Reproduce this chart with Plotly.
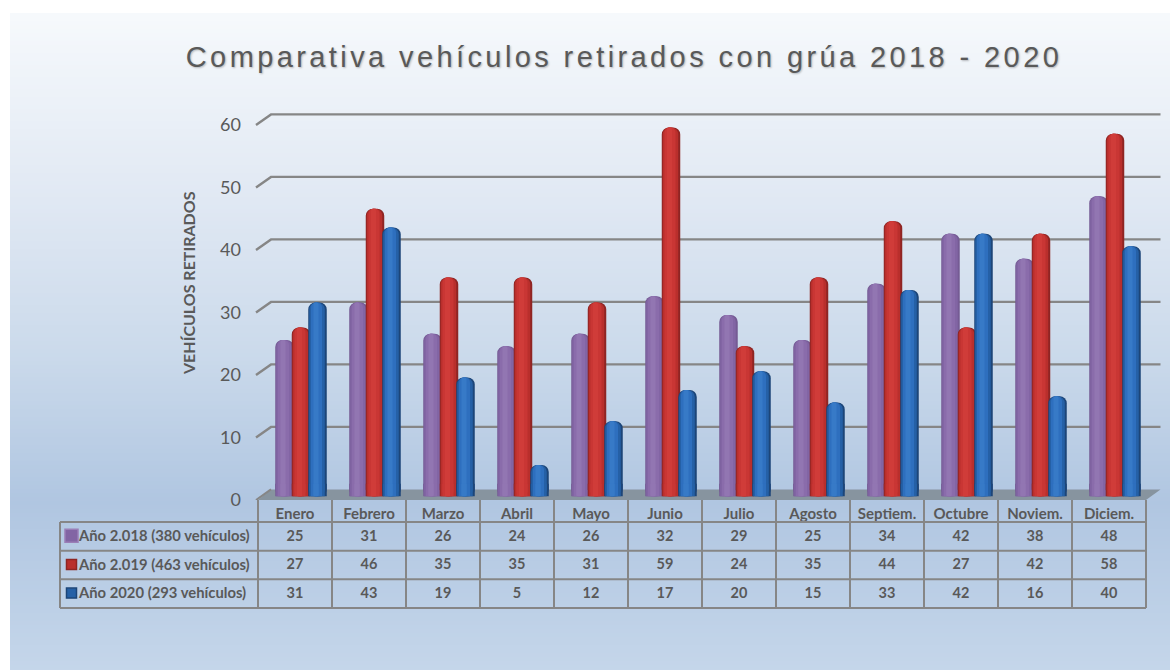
import plotly.graph_objects as go

W, H = 1170, 670
months = ["Enero", "Febrero", "Marzo", "Abril", "Mayo", "Junio", "Julio", "Agosto",
          "Septiem.", "Octubre", "Noviem.", "Diciem."]
names = ["Año 2.018 (380 vehículos)", "Año 2.019 (463 vehículos)", "Año 2020 (293 vehículos)"]
y2018 = [25, 31, 26, 24, 26, 32, 29, 25, 34, 42, 38, 48]
y2019 = [27, 46, 35, 35, 31, 59, 24, 35, 44, 27, 42, 58]
y2020 = [31, 43, 19, 5, 12, 17, 20, 15, 33, 42, 16, 40]
series = [y2018, y2019, y2020]
yticks = [0, 10, 20, 30, 40, 50, 60]

TITLE = "Comparativa vehículos retirados con grúa 2018 - 2020"
YTITLE = "VEHÍCULOS RETIRADOS"
FONT = "Lato, 'Open Sans', sans-serif"
TXT = "#595959"
LINE = "#868686"

# strip shading per series: (px offset from centre, px width, colour)
shades = [
    [(0, 18.5, "#755b94"), (-0.5, 15.5, "#8265a4"), (-1, 11, "#8a6cab"), (-1.5, 5, "#9276b2")],
    [(0, 18.5, "#8f2523"), (-0.5, 15.5, "#b92f2c"), (-1, 11, "#c93634"), (-1.5, 5, "#d03c39")],
    [(0, 18.5, "#1c4578"), (-0.5, 15.5, "#2560a6"), (-1, 11, "#2e6fbe"), (-1.5, 5, "#377ac7")],
]
centres = [-16.5, 0, 16.5]  # px from group centre

# geometry helpers (pixel -> axis units)
PX_X0, PX_COL = 258.0, 74.0
PX_L, PX_R = 57.0, 1162.0
PX_Y0, PX_UNIT = 500.0, 6.25
ROW = 28.67
px2x = lambda px: (px - PX_X0) / PX_COL
dx = 13 / PX_COL            # depth of the floor in x
dy = 10.6 / PX_UNIT         # depth of the floor in y
xend = px2x(1160.5)

fig = go.Figure()

shapes = []
# panel gradient
stops = [(13, (246, 249, 252)), (200, (224, 232, 243)), (350, (203, 218, 235)),
         (500, (176, 198, 225)), (670, (197, 214, 234))]
def col(p):
    for (a, ca), (b, cb) in zip(stops, stops[1:]):
        if a <= p <= b:
            t = (p - a) / (b - a)
            return "rgb(%d,%d,%d)" % tuple(round(u + (v - u) * t) for u, v in zip(ca, cb))
    return "rgb(197,214,234)"
for p in range(13, H, 4):
    shapes.append(dict(type="rect", xref="paper", yref="paper", layer="below",
                       x0=10 / W, x1=1, y0=max(0, 1 - (p + 4.5) / H), y1=1 - p / H,
                       fillcolor=col(p), line=dict(width=0)))
# floor
shapes.append(dict(type="path", xref="x", yref="y", layer="below", line=dict(width=0),
                   fillcolor="#87949f",
                   path=f"M 0 0 L {dx} {dy} L {xend} {dy} L {12} 0 Z"))
# grid lines on the back wall with slanted side wall segment
for v in yticks[1:]:
    shapes.append(dict(type="path", xref="x", yref="y", layer="below",
                       line=dict(color=LINE, width=2.4),
                       path=f"M {px2x(256)} {v} L {dx} {v + dy} L {xend} {v + dy}"))
shapes.append(dict(type="path", xref="x", yref="y", layer="below",
                   line=dict(color=LINE, width=2), path=f"M {px2x(256)} 0 L {dx} {dy}"))
# table lines
for r in range(4):
    shapes.append(dict(type="line", xref="x", yref="y2", layer="below", x0=px2x(60), x1=12, y0=r, y1=r,
                       line=dict(color=LINE, width=2)))
shapes.append(dict(type="line", xref="x", yref="y2", layer="below", x0=px2x(60), x1=px2x(60), y0=0, y1=3,
                   line=dict(color=LINE, width=2)))
for c in range(13):
    shapes.append(dict(type="line", xref="x", yref="y2", layer="below", x0=c, x1=c, y0=-22 / ROW, y1=3,
                       line=dict(color=LINE, width=2)))

# cylinder bars: rounded top strips, with square-cornered strips at their feet
xcat = [i + 0.5 for i in range(12)]
for s, vals in enumerate(series):
    for k, (off, wid, colr) in enumerate(shades[s]):
        xs = [c + (6 + centres[s] + off) / PX_COL for c in xcat]
        fig.add_trace(go.Bar(
            x=xs, y=vals, base=[0.6] * 12, width=wid / PX_COL, name=names[s],
            marker=dict(color=colr, line=dict(width=0), cornerradius=min(wid / 2, 7)),
            showlegend=False, hoverinfo="y"))
        fig.add_trace(go.Bar(
            x=xs, y=[min(v, 2) for v in vals], base=[0.6] * 12, width=wid / PX_COL, name=names[s],
            marker=dict(color=colr, line=dict(width=0)),
            showlegend=False, hoverinfo="skip"))

# table text
for r, vals in enumerate(series):
    fig.add_trace(go.Scatter(x=xcat, y=[r + 0.53] * 12, yaxis="y2", mode="text", text=[str(v) for v in vals],
                             textfont=dict(family=FONT, size=14.5, color=TXT, weight="bold"),
                             showlegend=False, hoverinfo="skip", cliponaxis=False))
    fig.add_trace(go.Scatter(x=[px2x(79)], y=[r + 0.53], yaxis="y2", mode="text", text=[names[r]],
                             textposition="middle right",
                             textfont=dict(family=FONT, size=14.8, color=TXT, weight="bold"),
                             showlegend=False, hoverinfo="skip", cliponaxis=False))
    fig.add_trace(go.Scatter(x=[px2x(71.5)], y=[r + 0.48], yaxis="y2", mode="markers",
                             marker=dict(symbol="square", size=13 if r == 0 else 10,
                                         color=shades[r][1][2],
                                         line=dict(color="#9a7eb6" if r == 0 else shades[r][0][2], width=1.5)),
                             showlegend=False, hoverinfo="skip", cliponaxis=False))

fig.update_layout(
    width=W, height=H, margin=dict(l=0, r=0, t=0, b=0, autoexpand=False), autosize=False,
    paper_bgcolor="white", plot_bgcolor="rgba(0,0,0,0)",
    barmode="overlay", showlegend=False, shapes=shapes,
    title=dict(text=TITLE, x=624 / W, y=1 - 57 / H, xanchor="center", yanchor="middle", xref="paper", yref="paper",
               font=dict(family="Liberation Sans", size=29, color=TXT,
                         shadow="1px 1px 2px rgba(0,0,0,0.25)")),
    xaxis=dict(domain=[PX_L / W, PX_R / W], range=[px2x(PX_L), px2x(PX_R)], anchor="y",
               tickmode="array", tickvals=xcat, ticktext=months, ticks="", showgrid=False, zeroline=False,
               showline=False, ticklabelstandoff=3,
               tickfont=dict(family=FONT, size=15, color=TXT, weight="bold")),
    yaxis=dict(domain=[1 - PX_Y0 / H, 1 - (PX_Y0 - 62 * PX_UNIT) / H], range=[0, 62],
               anchor="free", position=PX_X0 / W, side="left",
               tickmode="array", tickvals=yticks, ticks="", showgrid=False, zeroline=False, showline=False,
               ticklabelstandoff=17,
               tickfont=dict(family=FONT, size=18, color=TXT)),
    yaxis2=dict(domain=[1 - 610 / H, 1 - 500 / H], range=[(610 - 522) / ROW, -22 / ROW], anchor="x", visible=False),
    annotations=[dict(text=YTITLE, xref="paper", yref="paper", x=188 / W, y=1 - 283 / H, textangle=-90,
                      showarrow=False, xanchor="center", yanchor="middle",
                      font=dict(family=FONT, size=16, color=TXT, weight="bold"))],
)

fig.write_html("out.html", config={"displayModeBar": False}, post_script="""
document.body.style.margin='0';
document.querySelectorAll('.gtitle').forEach(function(t){t.style.letterSpacing='3.4px';});
""")
